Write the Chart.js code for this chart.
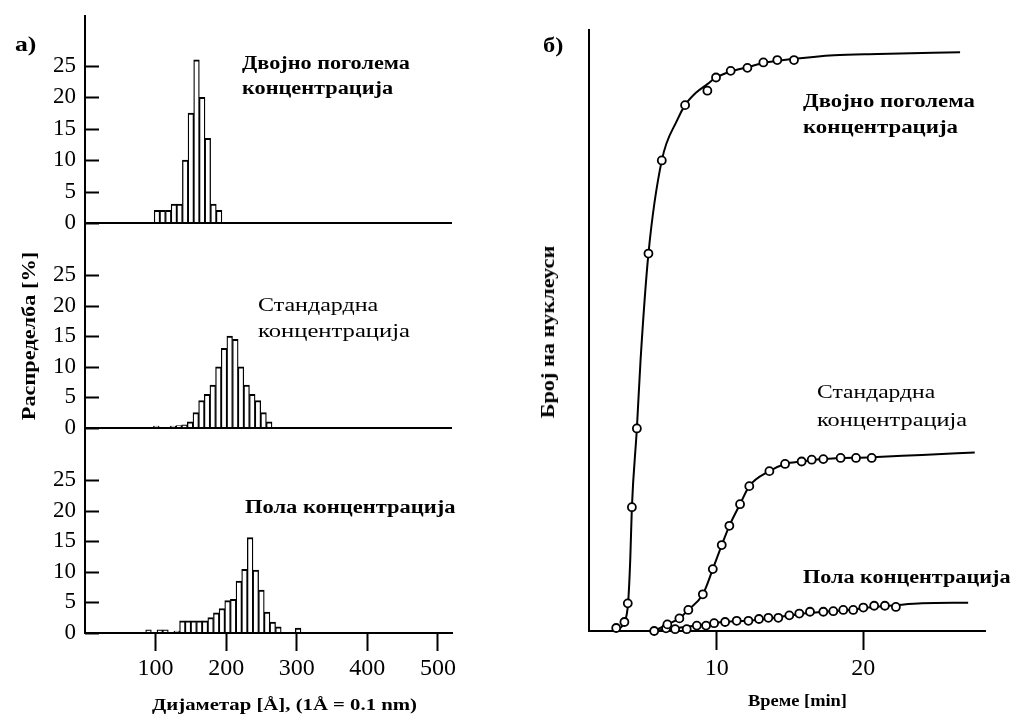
<!DOCTYPE html>
<html lang="mk">
<head>
<meta charset="utf-8">
<title>Распределба и нуклеација</title>
<script src="https://cdn.jsdelivr.net/npm/chart.js@4.4.1/dist/chart.umd.min.js"></script>
<style>
  html, body { margin: 0; padding: 0; background: #fff; }
  #page { position: relative; width: 1015px; height: 720px; overflow: hidden;
          font-family: 'Liberation Serif', 'DejaVu Serif', serif; color: #000; }
  canvas { position: absolute; }
  .lbl { position: absolute; white-space: nowrap; line-height: 1; transform-origin: 0 50%; }
  .b { font-weight: bold; }
</style>
</head>
<body>
<div id="page">
  <canvas id="hTop" width="470" height="236" style="left:0;top:0"></canvas>
  <canvas id="hMid" width="470" height="204" style="left:0;top:236px"></canvas>
  <canvas id="hBot" width="470" height="280" style="left:0;top:440px"></canvas>
  <canvas id="kin" width="545" height="720" style="left:470px;top:0"></canvas>

  <div class="lbl b" data-x="15" data-cy="45" data-fs="22" data-w="21">а)</div>
  <div class="lbl b" data-x="543" data-cy="46" data-fs="22" data-w="20">б)</div>

  <div class="lbl b" data-x="242" data-cy="64" data-fs="18" data-w="168">Двојно поголема</div>
  <div class="lbl b" data-x="242" data-cy="89" data-fs="18" data-w="151">концентрација</div>
  <div class="lbl" data-x="258" data-cy="306" data-fs="18" data-w="120">Стандардна</div>
  <div class="lbl" data-x="258" data-cy="332" data-fs="18" data-w="152">концентрација</div>
  <div class="lbl b" data-x="245" data-cy="508" data-fs="18" data-w="210">Пола концентрација</div>

  <div class="lbl b" data-x="803" data-cy="102" data-fs="18" data-w="172">Двојно поголема</div>
  <div class="lbl b" data-x="803" data-cy="128" data-fs="18" data-w="155">концентрација</div>
  <div class="lbl" data-x="817" data-cy="393" data-fs="18" data-w="118">Стандардна</div>
  <div class="lbl" data-x="817" data-cy="421" data-fs="18" data-w="150">концентрација</div>
  <div class="lbl b" data-x="803" data-cy="578" data-fs="18" data-w="207">Пола концентрација</div>

  <div class="lbl b" data-rot="1" data-cx="28" data-cy="336" data-fs="19" data-w="168">Распределба [%]</div>
  <div class="lbl b" data-rot="1" data-cx="548" data-cy="332" data-fs="18" data-w="172">Број на нуклеуси</div>

  <div class="lbl b" data-x="152" data-cy="705" data-fs="17" data-w="265">Дијаметар [Å], (1Å = 0.1 nm)</div>
  <div class="lbl b" data-x="748" data-cy="702" data-fs="16" data-w="99">Време [min]</div>
</div>

<script>
// histograms (a): bin centres in Å and share in %
const topBins = [102, 110, 118, 126, 134, 142, 150, 158, 166, 174, 182, 190];
const topPct  = [2, 2, 2, 3, 3, 10, 17.5, 26, 20, 13.5, 3, 2];

const midBins = [101, 125, 133, 141, 149, 157, 165, 173, 181, 189, 197, 205, 213, 221, 229, 237, 245, 253, 261];
const midPct  = [0.3, 0.3, 0.4, 0.5, 1, 2.5, 4.5, 5.5, 7, 10, 13, 15, 14.5, 10, 7, 5.5, 4.5, 2.5, 1];

const botBins = [90, 106, 114, 130, 138, 146, 154, 162, 170, 178, 186, 194, 202, 210, 218, 226, 234, 242, 250, 258, 266, 274, 302];
const botPct  = [0.5, 0.5, 0.5, 0.3, 2, 2, 2, 2, 2, 2.5, 3.3, 4, 5.3, 5.5, 8.5, 10.4, 15.6, 10.3, 7, 3.4, 1.8, 1, 0.8];

const diamTicks = [100, 200, 300, 400, 500];
const pctTicks = [0, 5, 10, 15, 20, 25];

// kinetics (б): time in min, number of nuclei (arbitrary units)
const dblDotsT = [3.14, 3.70, 3.93, 4.21, 4.55, 5.34, 6.25, 7.84, 9.36, 9.95, 10.95, 12.09, 13.18, 14.13, 15.27];
const dblDotsN = [0.5, 1.5, 4.6, 20.6, 33.7, 62.8, 78.3, 87.5, 89.9, 92.1, 93.2, 93.7, 94.6, 95.0, 95.0];
const dblFitT = [3.05, 3.7, 3.95, 4.1, 4.21, 4.55, 4.8, 5.34, 6.25, 7.3, 7.84, 8.6, 9.36, 9.95, 11.0, 12.1, 13.2, 15.3, 18.0, 21.0, 26.6];
const dblFitN = [0, 1.5, 4.6, 12, 20.6, 33.7, 45, 62.8, 78.3, 85, 87.5, 89.6, 91.0, 92.1, 93.1, 93.8, 94.5, 95.2, 95.8, 96.0, 96.3];

const stdDotsT = [6.63, 7.45, 8.06, 9.05, 9.73, 10.34, 10.86, 11.59, 12.22, 13.59, 14.66, 15.79, 16.48, 17.27, 18.45, 19.50, 20.57];
const stdDotsN = [1.1, 2.1, 3.5, 6.1, 10.3, 14.3, 17.5, 21.1, 24.1, 26.6, 27.8, 28.2, 28.5, 28.6, 28.8, 28.8, 28.8];
const stdFitT = [5.7, 6.63, 7.45, 8.06, 9.05, 9.73, 10.34, 10.86, 11.59, 12.22, 13.59, 14.66, 15.79, 17.27, 20.57, 24.0, 27.6];
const stdFitN = [0, 1.1, 2.1, 3.5, 6.1, 10.3, 14.3, 17.5, 21.1, 24.1, 26.6, 27.8, 28.2, 28.6, 28.9, 29.3, 29.7];

const halfDotsT = [5.73, 6.54, 7.16, 7.95, 8.64, 9.27, 9.82, 10.57, 11.36, 12.16, 12.88, 13.52, 14.2, 14.95, 15.63, 16.36, 17.27, 17.95, 18.63, 19.31, 20.0, 20.74, 21.47, 22.22];
const halfDotsN = [0, 0.45, 0.3, 0.3, 0.9, 0.9, 1.3, 1.5, 1.7, 1.7, 2.0, 2.2, 2.2, 2.6, 2.9, 3.2, 3.2, 3.3, 3.5, 3.5, 3.9, 4.2, 4.2, 4.0];
const halfFitT = [5.7, 7.0, 8.6, 10.5, 12.5, 14.2, 15.6, 17.3, 19.0, 20.7, 22.2, 24.0, 27.15];
const halfFitN = [0, 0.4, 0.9, 1.5, 1.8, 2.3, 2.8, 3.2, 3.5, 4.0, 4.3, 4.6, 4.7];
const timeTicks = [10, 20];

const SERIF = "'Liberation Serif', 'DejaVu Serif', serif";
const pts = (xs, ys) => xs.map((x, i) => ({ x, y: ys[i] }));
const noPad = (s) => { s.paddingTop = 0; s.paddingBottom = 0; s.paddingLeft = 0; s.paddingRight = 0; };

// tick marks pointing into the plot, as in the original figure
const inwardTicks = {
  id: 'inwardTicks',
  afterDraw(chart, args, opts) {
    if (!opts.len) return;
    const y = chart.scales.y, ctx = chart.ctx;
    ctx.save();
    ctx.strokeStyle = '#000';
    ctx.lineWidth = 2;
    for (const t of y.ticks) {
      const py = Math.round(y.getPixelForValue(t.value)) + 0.5;
      ctx.beginPath();
      ctx.moveTo(y.right, py);
      ctx.lineTo(y.right + opts.len, py);
      ctx.stroke();
    }
    ctx.restore();
  },
};

function histogram(id, bins, pct, yMin, yMax, padTop, showX) {
  return new Chart(document.getElementById(id), {
    type: 'bar',
    data: {
      datasets: [{
        data: pts(bins, pct),
        backgroundColor: '#fff',
        borderColor: '#000',
        borderWidth: { top: 2, left: 1.3, right: 1.3, bottom: 0 },
        barPercentage: 1,
        categoryPercentage: 1,
      }],
    },
    plugins: [inwardTicks],
    options: {
      responsive: false,
      animation: false,
      events: [],
      layout: { padding: { top: padTop, right: 18, bottom: 0, left: 0 } },
      plugins: { legend: { display: false }, tooltip: { enabled: false }, inwardTicks: { len: 14 } },
      scales: {
        x: {
          type: 'linear',
          display: showX,
          offset: false,
          min: 0,
          max: 520,
          afterBuildTicks: (s) => { s.ticks = diamTicks.map(v => ({ value: v })); },
          afterFit: (s) => { noPad(s); if (showX) s.height = 87; },
          grid: { offset: false, drawOnChartArea: false, drawTicks: true, tickLength: 18, tickWidth: 2, color: '#000' },
          border: { color: '#000', width: 2 },
          ticks: { color: '#000', font: { family: SERIF, size: 24 }, padding: 3, maxRotation: 0 },
        },
        y: {
          type: 'linear',
          min: yMin,
          max: yMax,
          afterBuildTicks: (s) => { s.ticks = pctTicks.map(v => ({ value: v })); },
          afterFit: (s) => { noPad(s); s.width = 85; },
          grid: {
            drawTicks: false,
            lineWidth: 2,
            color: (c) => (c.tick && c.tick.value === 0 ? '#000' : 'rgba(0,0,0,0)'),
          },
          border: { color: '#000', width: 2 },
          ticks: { color: '#000', font: { family: SERIF, size: 23 }, padding: 9 },
        },
      },
    },
  });
}

histogram('hTop', topBins, topPct, -2.07, 32.96, 16, false);
histogram('hMid', midBins, midPct, -1.96, 31.37, 0, false);
histogram('hBot', botBins, botPct, 0, 31.54, 0, true);

const fit = (xs, ys) => ({
  data: pts(xs, ys), showLine: true, borderColor: '#000', borderWidth: 2,
  pointRadius: 0, cubicInterpolationMode: 'monotone', clip: false, order: 1,
});
const dots = (xs, ys) => ({
  data: pts(xs, ys), showLine: false, pointRadius: 4, pointBorderWidth: 1.8,
  pointBackgroundColor: '#fff', pointBorderColor: '#000', clip: false, order: 0,
});

new Chart(document.getElementById('kin'), {
  type: 'scatter',
  data: {
    datasets: [
      fit(dblFitT, dblFitN), fit(stdFitT, stdFitN), fit(halfFitT, halfFitN),
      dots(dblDotsT, dblDotsN), dots(stdDotsT, stdDotsN), dots(halfDotsT, halfDotsN),
    ],
  },
  options: {
    responsive: false,
    animation: false,
    events: [],
    layout: { padding: { top: 30, right: 30, bottom: 0, left: 0 } },
    plugins: { legend: { display: false }, tooltip: { enabled: false } },
    scales: {
      x: {
        type: 'linear',
        min: 1.25,
        max: 28.3,
        afterBuildTicks: (s) => { s.ticks = timeTicks.map(v => ({ value: v })); },
        afterFit: (s) => { noPad(s); s.height = 89; },
        grid: { drawOnChartArea: false, drawTicks: true, tickLength: 19, tickWidth: 2, color: '#000' },
        border: { color: '#000', width: 2 },
        ticks: { color: '#000', font: { family: SERIF, size: 24 }, padding: 4, maxRotation: 0 },
      },
      y: {
        type: 'linear',
        min: 0,
        max: 100,
        afterFit: (s) => { noPad(s); s.width = 118.5; },
        grid: { display: false },
        border: { color: '#000', width: 2 },
        ticks: { display: false },
      },
    },
  },
});

// place the annotation texts and stretch them to the widths of the scan
document.querySelectorAll('.lbl').forEach((el) => {
  const fs = +el.dataset.fs;
  el.style.fontSize = fs + 'px';
  const s = +el.dataset.w / el.offsetWidth;
  if (el.dataset.rot) {
    el.style.transformOrigin = '50% 50%';
    el.style.left = el.dataset.cx + 'px';
    el.style.top = el.dataset.cy + 'px';
    el.style.transform = `translate(-50%, -50%) rotate(-90deg) scaleX(${s.toFixed(3)})`;
  } else {
    el.style.left = el.dataset.x + 'px';
    el.style.top = (el.dataset.cy - 0.55 * fs) + 'px';
    el.style.transform = `scaleX(${s.toFixed(3)})`;
  }
});
</script>
</body>
</html>
